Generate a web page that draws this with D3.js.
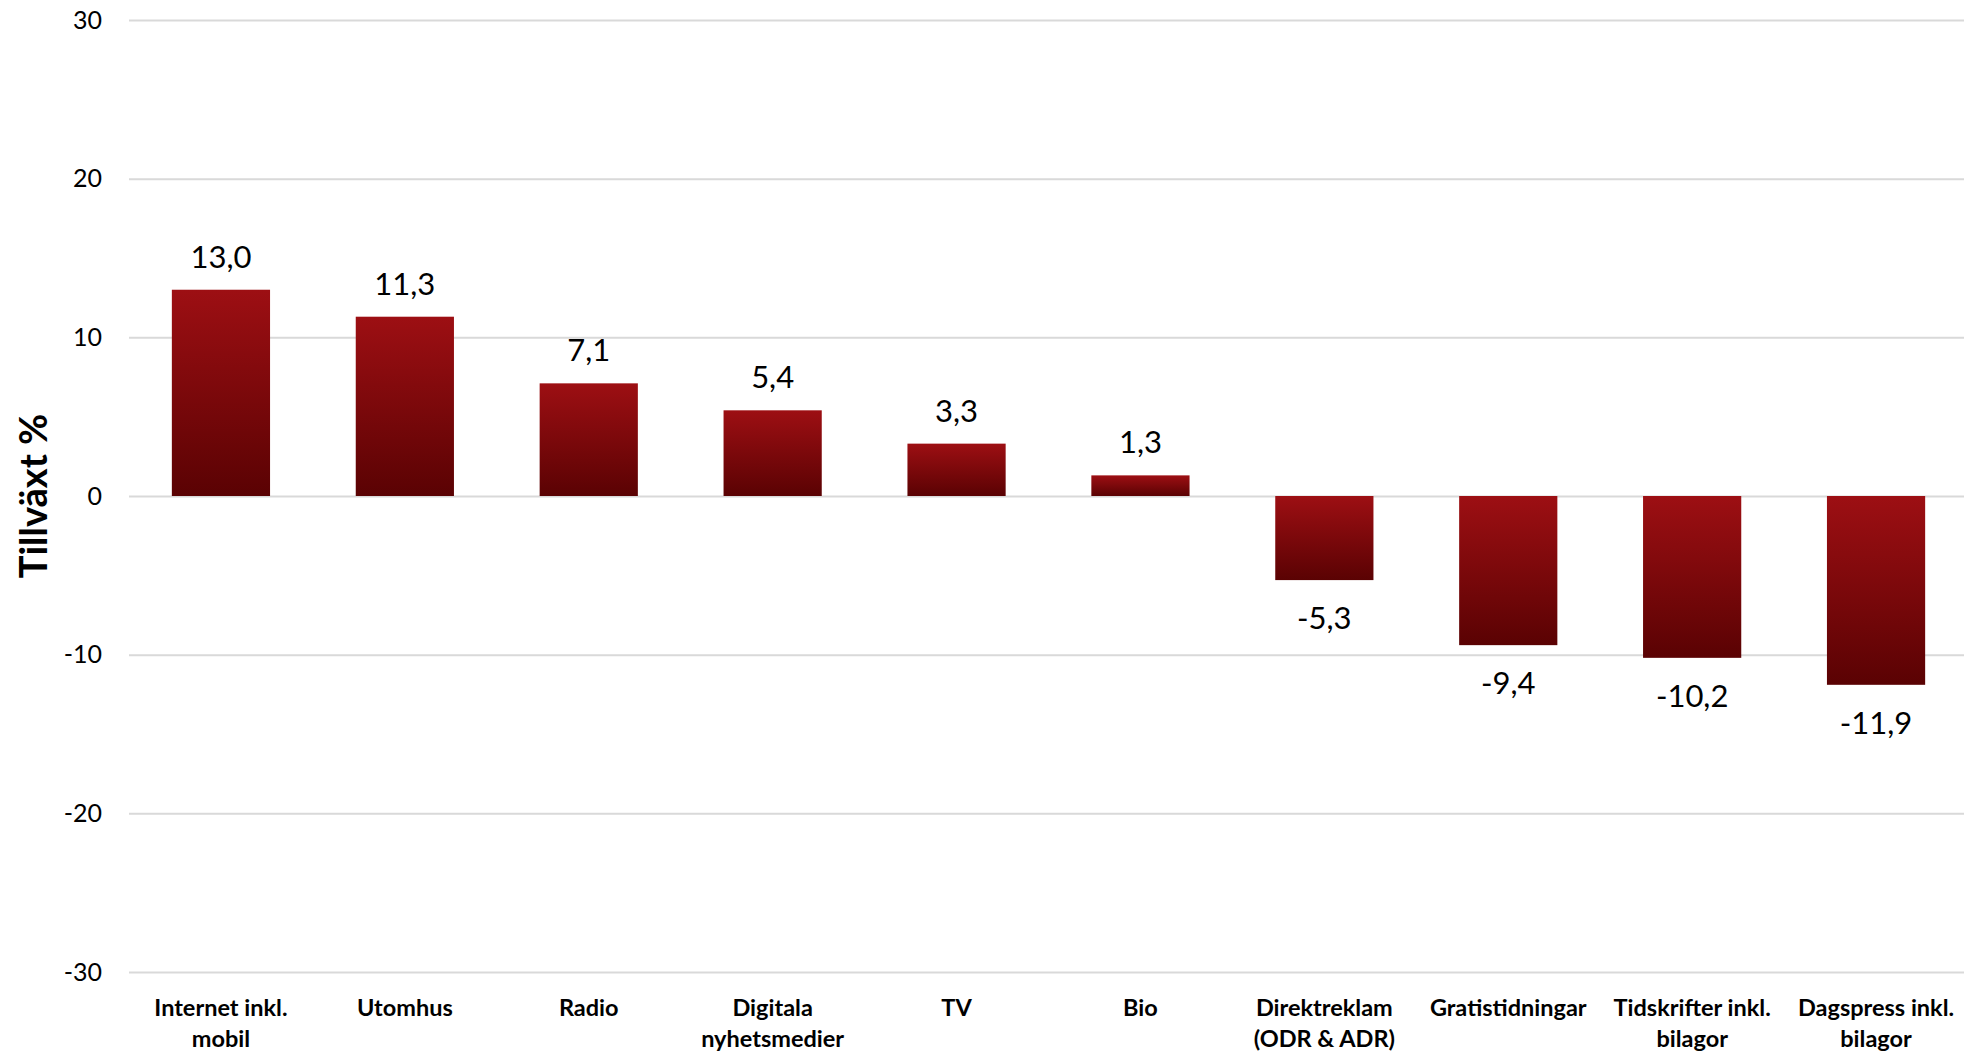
<!DOCTYPE html>
<html>
<head>
<meta charset="utf-8">
<script src="https://cdn.jsdelivr.net/npm/d3@7"></script>
<style>
  html, body { margin: 0; padding: 0; background: #fff; }
  svg { display: block; }
  text { font-family: Lato, "Open Sans", sans-serif; }
</style>
</head>
<body>
<script>
// Media categories (label lines) and growth in percent
const categories = [
  ["Internet inkl.", "mobil"],
  ["Utomhus"],
  ["Radio"],
  ["Digitala", "nyhetsmedier"],
  ["TV"],
  ["Bio"],
  ["Direktreklam", "(ODR & ADR)"],
  ["Gratistidningar"],
  ["Tidskrifter inkl.", "bilagor"],
  ["Dagspress inkl.", "bilagor"]
];
const growth = [13.0, 11.3, 7.1, 5.4, 3.3, 1.3, -5.3, -9.4, -10.2, -11.9];
const yTicks = [-30, -20, -10, 0, 10, 20, 30];
const yTitle = "Tillväxt %";

const W = 1964, H = 1054;
const margin = { left: 129, right: -4, top: 20, bottom: 82 };

const svg = d3.select("body").append("svg")
  .attr("width", W).attr("height", H);

// Vertical fade from bright red to dark maroon, applied per bar
const defs = svg.append("defs");
const grad = defs.append("linearGradient")
  .attr("id", "barFill")
  .attr("x1", 0).attr("y1", 0).attr("x2", 0).attr("y2", 1);
grad.append("stop").attr("offset", "0%").attr("stop-color", "#9d0f13");
grad.append("stop").attr("offset", "100%").attr("stop-color", "#5a0203");

const x = d3.scaleBand()
  .domain(d3.range(categories.length))
  .range([margin.left, W - margin.right])
  .paddingInner(0.466)
  .paddingOuter(0.233);

const y = d3.scaleLinear()
  .domain([-30, 30])
  .range([H - margin.bottom, margin.top]);

// Horizontal gridlines with tick labels (plain hyphen for negatives)
const yAxis = svg.append("g")
  .attr("transform", `translate(${margin.left},0)`)
  .call(d3.axisLeft(y).tickValues(yTicks)
    .tickSize(-(W - margin.left))
    .tickPadding(27)
    .tickFormat(d => String(d)));
yAxis.select(".domain").remove();
yAxis.selectAll(".tick line").attr("stroke", "#d9d9d9").attr("stroke-width", 2);
yAxis.selectAll(".tick text")
  .attr("fill", "#000")
  .style("font-size", "25px")
  .style("font-family", "Lato, 'Open Sans', sans-serif");

// Bars
svg.append("g").selectAll("rect")
  .data(growth)
  .join("rect")
  .attr("x", (d, i) => x(i))
  .attr("width", x.bandwidth())
  .attr("y", d => y(Math.max(0, d)))
  .attr("height", d => Math.abs(y(d) - y(0)))
  .attr("fill", "url(#barFill)");

// Value labels
const fmt = v => v.toFixed(1).replace(".", ",");
svg.append("g").selectAll("text")
  .data(growth)
  .join("text")
  .attr("x", (d, i) => x(i) + x.bandwidth() / 2)
  .attr("y", d => d >= 0 ? y(d) - 22 : y(d) + 49)
  .attr("text-anchor", "middle")
  .attr("fill", "#000")
  .style("font-size", "31px")
  .text(fmt);

// Category labels
const cat = svg.append("g").selectAll("text")
  .data(categories)
  .join("text")
  .attr("x", (d, i) => x(i) + x.bandwidth() / 2)
  .attr("y", H - margin.bottom + 44)
  .attr("text-anchor", "middle")
  .attr("fill", "#000")
  .style("font-size", "23.5px")
  .style("font-weight", "bold");
cat.selectAll("tspan")
  .data(d => d)
  .join("tspan")
  .attr("x", function () { return d3.select(this.parentNode).attr("x"); })
  .attr("dy", (d, i) => i === 0 ? 0 : 31)
  .text(d => d);

// Y axis title
svg.append("text")
  .attr("transform", `translate(47,${y(0)}) rotate(-90)`)
  .attr("text-anchor", "middle")
  .attr("fill", "#000")
  .style("font-size", "38px")
  .style("font-weight", "bold")
  .text(yTitle);
</script>
</body>
</html>
